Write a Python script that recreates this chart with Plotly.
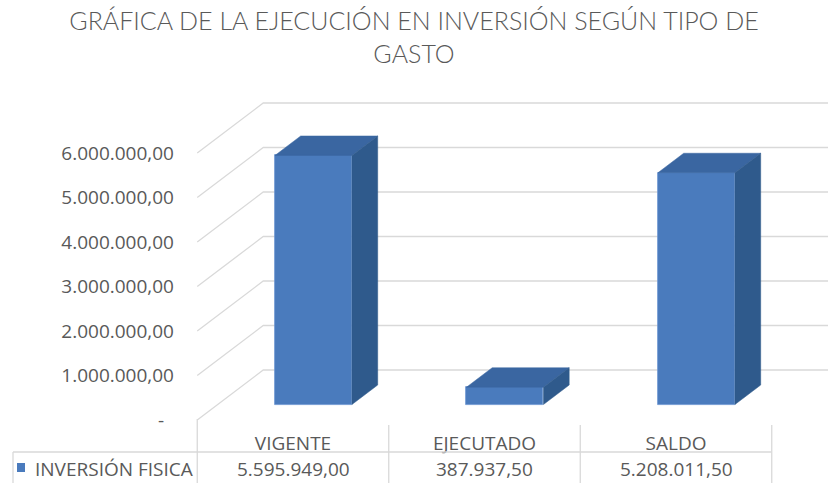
import plotly.graph_objects as go

# ---------------- data ----------------
categories = ["VIGENTE", "EJECUTADO", "SALDO"]
values = [5595949.00, 387937.50, 5208011.50]
value_labels = ["5.595.949,00", "387.937,50", "5.208.011,50"]
series_name = "INVERSIÓN FISICA"
tick_values = [0, 1000000, 2000000, 3000000, 4000000, 5000000, 6000000]
tick_labels = ["-\u00a0\u00a0", "1.000.000,00", "2.000.000,00", "3.000.000,00",
               "4.000.000,00", "5.000.000,00", "6.000.000,00"]
title_text = "GRÁFICA DE LA EJECUCIÓN EN INVERSIÓN SEGÚN TIPO DE<br>GASTO"

# ---------------- layout geometry ----------------
W, H = 828, 483
ML, MB = 178, 63
PW, PH = W - ML, H - MB
CAT_PX = 191.5            # pixels per category
UNIT_PX = 44.5 / 1e6      # pixels per value unit
X0_PX = 293.0             # pixel of category 0 center (front plane)
x_range = [(ML - X0_PX) / CAT_PX, (W - X0_PX) / CAT_PX]
y_range = [0, PH / UNIT_PX]

DEPTH_X = 66 / CAT_PX
DEPTH_Y = 50 / UNIT_PX
BAR_W = 77 / CAT_PX
F1, F2 = 0.31, 0.70

FRONT = "#4a7bbd"
TOP = "#3a66a1"
SIDE = "#2f5a8c"
GRID = "#d9d9d9"
TEXT = "#595959"
FONT = "Open Sans, Liberation Sans, sans-serif"
FS = 19


def px_paper_x(px):
    return (px - ML) / PW


def px_paper_y(py):
    return (PH - py) / PH


def data_px_x(xd):
    return X0_PX + xd * CAT_PX


fig = go.Figure()
shapes = []

# back wall / side wall gridlines (drawn below the bars)
n = len(categories)
left = -0.5
right = n - 0.5
for v in tick_values:
    pts = [(left, v), (left + DEPTH_X, v + DEPTH_Y), (right + DEPTH_X, v + DEPTH_Y)]
    path = "M " + " L ".join(f"{x},{y}" for x, y in pts)
    shapes.append(dict(type="path", xref="x", yref="y", path=path,
                       line=dict(color=GRID, width=1.3), layer="below"))

# bars: front face via Bar, top & side faces as polygons
xs = list(range(n))
fig.add_trace(go.Bar(
    x=[i + F1 * DEPTH_X for i in xs], y=values, base=F1 * DEPTH_Y,
    width=BAR_W, marker=dict(color=FRONT, line=dict(color="#6b95d0", width=0.8)),
    name=series_name, showlegend=False))

ddx = (F2 - F1) * DEPTH_X
ddy = (F2 - F1) * DEPTH_Y
for i, v in zip(xs, values):
    xl = i + F1 * DEPTH_X - BAR_W / 2
    xr = i + F1 * DEPTH_X + BAR_W / 2
    base = F1 * DEPTH_Y
    top = base + v
    fig.add_trace(go.Scatter(
        x=[xl, xr, xr + ddx, xl + ddx, xl],
        y=[top, top, top + ddy, top + ddy, top],
        fill="toself", fillcolor=TOP, mode="lines",
        line=dict(color=TOP, width=0.5), hoverinfo="skip", showlegend=False))
    fig.add_trace(go.Scatter(
        x=[xr, xr + ddx, xr + ddx, xr, xr],
        y=[base, base + ddy, top + ddy, top, base],
        fill="toself", fillcolor=SIDE, mode="lines",
        line=dict(color=SIDE, width=0.5), hoverinfo="skip", showlegend=False))

# ---------------- data table ----------------
line_style = dict(color=GRID, width=1.3)
col_edges = [data_px_x(left + k) for k in range(n + 1)]
for k, ex in enumerate(col_edges):
    y_top = 419 if k == 0 else 425
    shapes.append(dict(type="line", xref="paper", yref="paper",
                       x0=px_paper_x(ex), x1=px_paper_x(ex),
                       y0=px_paper_y(y_top), y1=px_paper_y(483), line=line_style))
shapes.append(dict(type="line", xref="paper", yref="paper",
                   x0=px_paper_x(13), x1=px_paper_x(col_edges[-1]),
                   y0=px_paper_y(452), y1=px_paper_y(452), line=line_style))
shapes.append(dict(type="line", xref="paper", yref="paper",
                   x0=px_paper_x(13), x1=px_paper_x(13),
                   y0=px_paper_y(452), y1=px_paper_y(483), line=line_style))
# legend key
shapes.append(dict(type="rect", xref="paper", yref="paper",
                   x0=px_paper_x(17), x1=px_paper_x(25),
                   y0=px_paper_y(472), y1=px_paper_y(463),
                   fillcolor=FRONT, line=dict(width=0)))

annotations = []
for i, lab in zip(xs, value_labels):
    annotations.append(dict(x=i, xref="x", y=px_paper_y(469), yref="paper",
                            text=lab, showarrow=False, xanchor="center",
                            yanchor="middle", font=dict(family=FONT, size=FS, color=TEXT)))
annotations.append(dict(x=px_paper_x(33), xref="paper", y=px_paper_y(469), yref="paper",
                        text=series_name, showarrow=False, xanchor="left",
                        yanchor="middle", font=dict(family=FONT, size=FS, color=TEXT)))

fig.update_layout(
    width=W, height=H,
    margin=dict(l=ML, r=0, t=0, b=MB),
    paper_bgcolor="white", plot_bgcolor="white",
    title=dict(text=title_text, x=0.5, xref="container", xanchor="center",
               y=1 - 30 / H, yref="container", yanchor="top",
               font=dict(family="Lato, Open Sans, sans-serif", weight=300,
                         size=25, color=TEXT)),
    xaxis=dict(range=x_range, tickvals=xs, ticktext=categories,
               showgrid=False, zeroline=False, showline=False, ticks="",
               ticklabelstandoff=10,
               tickfont=dict(family=FONT, size=FS, color=TEXT)),
    yaxis=dict(range=y_range, tickvals=tick_values, ticktext=tick_labels,
               showgrid=False, zeroline=False, showline=False, ticks="",
               ticklabelstandoff=3,
               tickfont=dict(family=FONT, size=FS, color=TEXT)),
    shapes=shapes, annotations=annotations,
    bargap=0, showlegend=False,
)

fig.write_html("out.html", config={"displayModeBar": False},
               post_script="document.body.style.margin='0px';")
